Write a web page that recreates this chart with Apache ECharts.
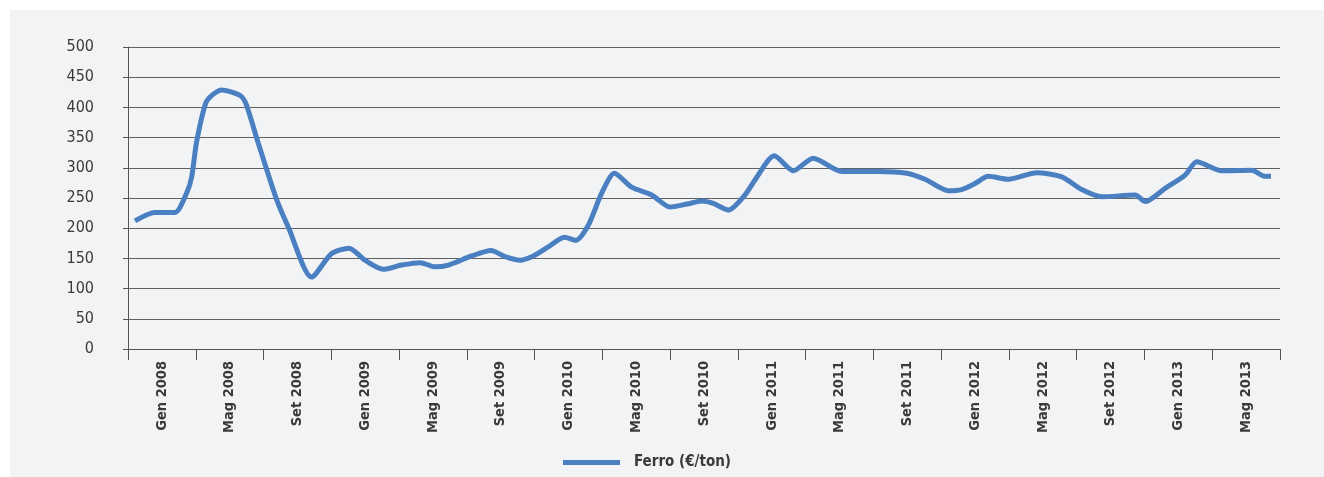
<!DOCTYPE html>
<html>
<head>
<meta charset="utf-8">
<script src="https://cdn.jsdelivr.net/npm/echarts@6/dist/echarts.min.js"></script>
<style>
html,body{margin:0;padding:0;background:#ffffff;}
#c{width:1324px;height:477px;}
</style>
</head>
<body>
<div id="c"></div>
<script>
// Tick labels (one per 4-month group)
var periodLabels = ['Gen 2008','Mag 2008','Set 2008','Gen 2009','Mag 2009','Set 2009','Gen 2010','Mag 2010','Set 2010','Gen 2011','Mag 2011','Set 2011','Gen 2012','Mag 2012','Set 2012','Gen 2013','Mag 2013'];
// Position in months from start of Gen 2008
var months = [0.41,1.59,2.77,3.46,3.76,4.05,4.6,5.04,5.53,6.61,6.95,7.7,8.78,9.46,10.84,12.02,13.05,13.99,15.07,16.15,17.24,18.12,18.91,20.29,21.43,22.26,23.14,23.93,24.81,25.76,26.43,27.17,27.96,28.71,29.73,30.91,32.0,33.0,33.87,34.55,35.44,36.42,37.01,38.15,39.27,40.45,42.13,44.29,45.97,47.05,48.42,49.21,50.0,50.78,51.97,53.64,55.12,56.3,57.48,59.45,60.04,61.22,62.4,63.09,64.56,66.33,67.12,67.47];
// Ferro (€/ton)
var ferro = [212,226,226,258,285,343,408,422,429,420,407,340,247,202,119,158,167,147,132,139,143,136,139,154,163,153,147,154,169,185,180,205,258,291,268,255,235,240,245,241,230,255,280,320,295,316,294,294,291,281,262,264,274,286,281,292,285,264,252,255,244,266,288,310,295,296,286,286];
var yTicks = {min:0, max:500, interval:50};
var seriesName = 'Ferro (€/ton)';

var pts = months.map(function(m,i){return [m, ferro[i]];});
var chart = echarts.init(document.getElementById('c'));
var axisCol = '#555555';
var font = '"DejaVu Sans Condensed","Liberation Sans Narrow",sans-serif';
chart.setOption({
  animation:false,
  backgroundColor:'#ffffff',
  graphic:[{type:'rect', z:-10, shape:{x:10,y:10,width:1314,height:467}, style:{fill:'#f2f3f5'}}],
  grid:{left:128,right:44,top:47,bottom:128,containLabel:false},
  legend:{
    left:558, top:450,
    icon:'rect', itemWidth:57, itemHeight:5,
    textStyle:{fontFamily:font,fontWeight:'bold',fontSize:15,color:'#3a3a3a',padding:[0,0,0,9]},
    data:[seriesName]
  },
  xAxis:[{
    type:'category', data:periodLabels, boundaryGap:true,
    axisLine:{show:true,lineStyle:{color:axisCol,width:1}},
    axisTick:{show:true,length:11,interval:0,lineStyle:{color:axisCol}},
    axisLabel:{interval:0,rotate:90,margin:12,fontFamily:font,fontWeight:'bold',fontSize:14.5,color:'#3a3a3a'},
    splitLine:{show:false}
  },{
    type:'value', min:0, max:68, show:false
  }],
  yAxis:{
    type:'value', min:yTicks.min, max:yTicks.max, interval:yTicks.interval,
    axisLine:{show:true,lineStyle:{color:axisCol,width:1}},
    axisTick:{show:true,length:5,lineStyle:{color:axisCol}},
    axisLabel:{margin:34,fontFamily:font,fontSize:16,color:'#3a3a3a'},
    splitLine:{show:true,lineStyle:{color:'#606060',width:1}}
  },
  series:[{
    name:seriesName, type:'line', xAxisIndex:1, data:pts,
    smooth:0.25, showSymbol:false, symbol:'none',
    lineStyle:{color:'#4a7fc1',width:5},
    itemStyle:{color:'#4a7fc1'}
  }]
});
</script>
</body>
</html>
